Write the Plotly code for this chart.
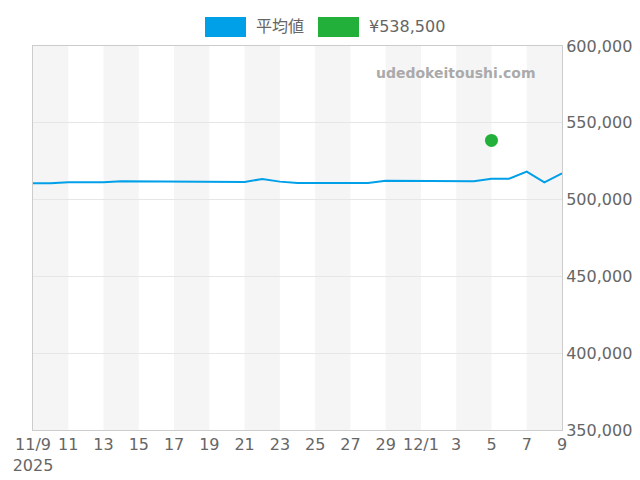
import plotly.graph_objects as go
import pandas as pd

dates = pd.date_range("2025-11-09", "2025-12-09", freq="D")
prix_moyen = [510700, 510700, 511300, 511300, 511300, 511900, 511900, 511500, 511500, 511500,
              511900, 511900, 511500, 513400, 511700, 510800, 510800, 510800, 510800, 510800,
              512300, 512300, 512000, 512000, 512000, 512000, 513600, 513600, 518200, 511200, 517100]
date_point = ["2025-12-05"]
prix_point = [538500]
noms_legende = ["平均値", "¥538,500"]
couleurs = ["#00a0e9", "#22b03a"]

tick_dates = pd.date_range("2025-11-09", "2025-12-09", freq="2D")
tick_labels = ["11/9<br>2025", "11", "13", "15", "17", "19", "21", "23", "25", "27", "29",
               "12/1", "3", "5", "7", "9"]

fig = go.Figure()

# bandes grises une sur deux
formes = []
for i in range(0, len(tick_dates) - 1, 2):
    formes.append(dict(type="rect", xref="x", yref="paper", x0=tick_dates[i], x1=tick_dates[i + 1],
                       y0=0, y1=1, fillcolor="#f5f5f5", line_width=0, layer="below"))

fig.add_trace(go.Scatter(x=dates, y=prix_moyen, mode="lines", line=dict(color=couleurs[0], width=2),
                         showlegend=False))
fig.add_trace(go.Scatter(x=date_point, y=prix_point, mode="markers",
                         marker=dict(color=couleurs[1], size=13), showlegend=False))

# légende faite à la main (rectangles + texte)
largeur, hauteur = 529.0, 384.0
positions_px = [197, 310]
for px, nom, coul in zip(positions_px, noms_legende, couleurs):
    formes.append(dict(type="rect", xref="paper", yref="paper",
                       x0=(px - 25) / largeur, x1=(px + 41 - 25) / largeur,
                       y0=(422 - 29) / hauteur, y1=(422 - 9) / hauteur,
                       fillcolor=coul, line_width=0))
    fig.add_annotation(text=nom, xref="paper", yref="paper", x=(px + 49 - 25) / largeur,
                       y=(422 - 19) / hauteur, xanchor="left", yanchor="middle", showarrow=False,
                       font=dict(size=16, color="#666666"))

fig.add_annotation(text="udedokeitoushi.com", xref="paper", yref="paper", x=0.955, y=0.93,
                   xanchor="right", yanchor="middle", showarrow=False,
                   font=dict(size=14, color="#aaaaaa", family="DejaVu Sans", weight="bold"))

fig.update_layout(
    width=640, height=480, plot_bgcolor="white", paper_bgcolor="white",
    margin=dict(l=25, r=86, t=38, b=58),
    font=dict(family="DejaVu Sans, Noto Sans CJK JP", size=16, color="#666666"),
    shapes=formes, showlegend=False,
    xaxis=dict(range=[dates[0], dates[-1]], tickvals=tick_dates, ticktext=tick_labels,
               showgrid=False, showline=True, linecolor="#cccccc", mirror=True, ticks="",
               automargin=False),
    yaxis=dict(side="right", range=[350000, 600000], dtick=50000, tickformat=",",
               gridcolor="#e6e6e6", showline=True, linecolor="#cccccc", mirror=True, zeroline=False,
               automargin=False),
)

fig.write_html("out.html")
